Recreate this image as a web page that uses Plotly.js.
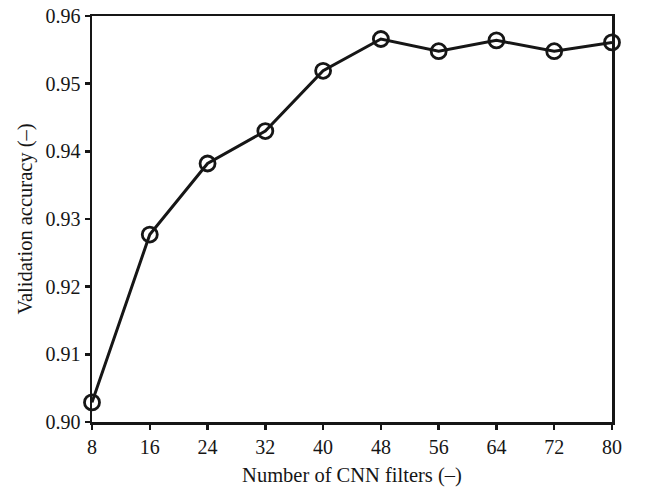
<!DOCTYPE html>
<html>
<head>
<meta charset="utf-8">
<script src="https://cdn.plot.ly/plotly-3.0.1.min.js"></script>
<style>
  html, body { margin: 0; padding: 0; background: #fff; }
  #chart { width: 647px; height: 487px; }
</style>
</head>
<body>
<div id="chart"></div>
<script>
// Validation accuracy versus the number of CNN filters
const filters = [8, 16, 24, 32, 40, 48, 56, 64, 72, 80];
const accuracy = [0.9029, 0.9277, 0.9382, 0.9430, 0.9519, 0.9566, 0.9548, 0.9564, 0.9548, 0.9561];
const xTicks = [8, 16, 24, 32, 40, 48, 56, 64, 72, 80];
const yTicks = [0.90, 0.91, 0.92, 0.93, 0.94, 0.95, 0.96];
const yTickText = ['0.90', '0.91', '0.92', '0.93', '0.94', '0.95', '0.96'];

const ink = '#161616';
const tickFont = { family: '"Liberation Serif", "DejaVu Serif", serif', size: 20, color: ink };
const titleFont = { family: '"Liberation Serif", "DejaVu Serif", serif', size: 20.5, color: ink };

const trace = {
  x: filters,
  y: accuracy,
  type: 'scatter',
  mode: 'lines+markers',
  cliponaxis: false,
  line: { color: ink, width: 3 },
  marker: { symbol: 'circle-open', size: 15, color: ink, line: { color: ink, width: 2.8 } },
  hoverinfo: 'x+y'
};

const axisCommon = {
  showline: true,
  linecolor: ink,
  linewidth: 2.5,
  mirror: true,
  ticks: 'outside',
  ticklen: 5,
  tickwidth: 2.5,
  tickcolor: ink,
  showgrid: false,
  zeroline: false,
  tickfont: tickFont
};

const layout = {
  width: 647,
  height: 487,
  margin: { l: 92, r: 35, t: 16, b: 65 },
  paper_bgcolor: '#fff',
  plot_bgcolor: '#fff',
  showlegend: false,
  font: tickFont,
  xaxis: Object.assign({}, axisCommon, {
    range: [8, 80],
    tickmode: 'array',
    tickvals: xTicks,
    title: { text: 'Number of CNN filters (–)', font: titleFont, standoff: 11 }
  }),
  yaxis: Object.assign({}, axisCommon, {
    range: [0.90, 0.96],
    tickmode: 'array',
    tickvals: yTicks,
    ticktext: yTickText,
    title: { text: 'Validation accuracy (–)', font: titleFont, standoff: 8 }
  })
};

Plotly.newPlot('chart', [trace], layout, { displayModeBar: false, staticPlot: true });
</script>
</body>
</html>
